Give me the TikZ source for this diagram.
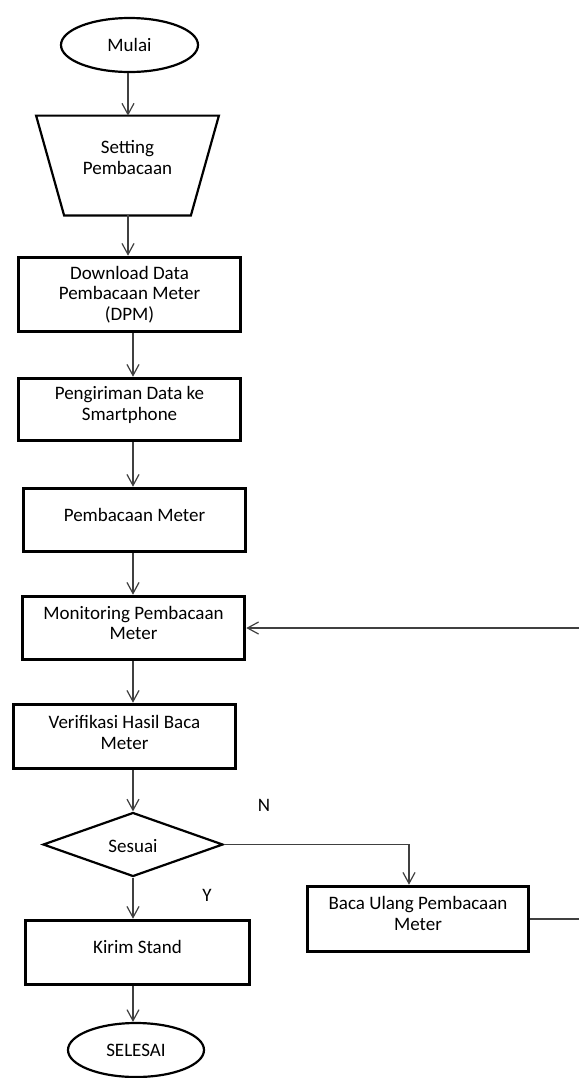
\documentclass[tikz,border=0pt]{standalone}
\usepackage{fontspec}
\setmainfont{Carlito}
\usetikzlibrary{shapes.geometric,arrows.meta}
\begin{document}
\begin{tikzpicture}[x=0.5pt,y=-0.5pt,
  boxs/.style={draw=black, line width=1.8pt, rectangle, inner sep=0pt},
  thinshape/.style={draw=black, line width=1.1pt, inner sep=0pt},
  txt/.style={align=center, inner sep=0pt, font=\fontsize{9.5}{10.25}\selectfont, text=black},
  arr/.style={draw=black!75, line width=0.6pt, -{Straight Barb[length=5.5pt,width=6pt]}}]
\useasboundingbox (0,0) rectangle (579,1078);
\fill[white] (0,0) rectangle (579,1078);

% column coordinates
\coordinate (ca) at (128,0);
\coordinate (cb) at (133,0);
\coordinate (cn) at (409,0);
\coordinate (cr) at (581,0);

% shapes
\node[thinshape, ellipse, minimum width=68.5pt, minimum height=27pt] (mulai) at (129.5,45) {};
\node[inner sep=0pt, minimum width=91pt, minimum height=49.5pt] (setting) at (127.5,165.5) {};
\draw[line width=1.1pt, line join=miter] (setting.north west) -- (setting.north east)
   -- ([xshift=-14pt]setting.south east) -- ([xshift=14pt]setting.south west) -- cycle;
\node[boxs, minimum width=111pt, minimum height=37pt] (download) at (129.5,294.5) {};
\node[boxs, minimum width=111pt, minimum height=31pt] (pengiriman) at (129.5,409.5) {};
\node[boxs, minimum width=111pt, minimum height=31.5pt] (pembacaan) at (134.5,520) {};
\node[boxs, minimum width=111pt, minimum height=31.5pt] (monitoring) at (133.5,628) {};
\node[boxs, minimum width=111pt, minimum height=32pt] (verifikasi) at (124.5,736.5) {};
\node[thinshape, diamond, minimum width=90pt, minimum height=32pt] (sesuai) at (133,844.5) {};
\node[boxs, minimum width=112pt, minimum height=32pt] (kirim) at (137.5,952.5) {};
\node[thinshape, ellipse, minimum width=68pt, minimum height=27pt] (selesai) at (136,1050) {};
\node[boxs, minimum width=110.5pt, minimum height=32.5pt] (baca) at (418,919) {};

% texts
\node[txt] (tmulai) at (mulai.center) {Mulai};
\node[txt] (tsetting) at ([yshift=4pt]setting.center) {Setting\\Pembacaan};
\node[txt] (tdownload) at (download.center) {Download Data\\Pembacaan Meter\\(DPM)};
\node[txt] (tpengiriman) at ([yshift=2.25pt]pengiriman.center) {Pengiriman Data ke\\Smartphone};
\node[txt] (tpembacaan) at ([yshift=2.5pt]pembacaan.center) {Pembacaan Meter};
\node[txt] (tmonitoring) at ([yshift=2.5pt]monitoring.center) {Monitoring Pembacaan\\Meter};
\node[txt] (tverifikasi) at ([yshift=2pt]verifikasi.center) {Verifikasi Hasil Baca\\Meter};
\node[txt] (tsesuai) at ([yshift=-0.75pt]sesuai.center) {Sesuai};
\node[txt] (tkirim) at ([yshift=2.75pt]kirim.center) {Kirim Stand};
\node[txt] (tselesai) at (selesai.center) {SELESAI};
\node[txt] (tbaca) at ([yshift=2.75pt]baca.center) {Baca Ulang Pembacaan\\Meter};
\node[txt] (lblN) at (264,805) {N};
\node[txt] (lblY) at (207,895) {Y};

% connectors
\draw[arr] (mulai.south -| ca) -- (setting.north -| ca);
\draw[arr] (setting.south -| ca) -- (download.north -| ca);
\draw[arr] (download.south -| cb) -- (pengiriman.north -| cb);
\draw[arr] (pengiriman.south -| cb) -- (pembacaan.north -| cb);
\draw[arr] (pembacaan.south -| cb) -- (monitoring.north -| cb);
\draw[arr] (monitoring.south -| cb) -- (verifikasi.north -| cb);
\draw[arr] (verifikasi.south -| cb) -- (sesuai.north -| cb);
\draw[arr] (sesuai.south -| cb) -- (kirim.north -| cb);
\draw[arr] (kirim.south -| cb) -- (selesai.north -| cb);
\draw[arr] (sesuai.east) -- (sesuai.east -| cn) -- (baca.north -| cn);
\draw[arr] (baca.east) -- (baca.east -| cr) -- (monitoring.east -| cr) -- (monitoring.east);
\end{tikzpicture}
\end{document}
